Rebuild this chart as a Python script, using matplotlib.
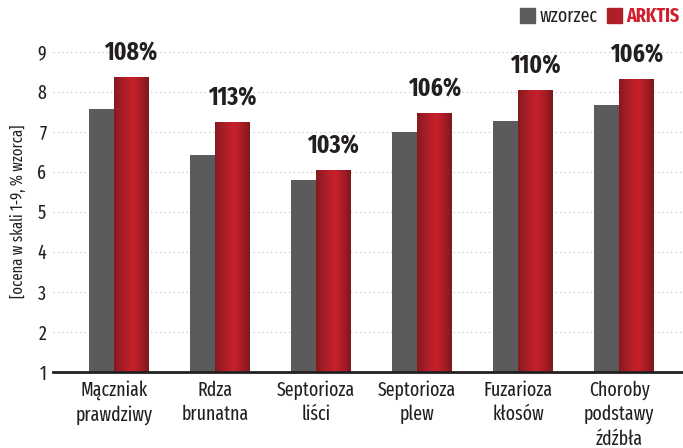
import numpy as np
import matplotlib.pyplot as plt
from matplotlib.colors import LinearSegmentedColormap
from matplotlib.patches import Patch

kategorie = ['Mączniak\nprawdziwy', 'Rdza\nbrunatna', 'Septorioza\nliści',
             'Septorioza\nplew', 'Fuzarioza\nkłosów', 'Choroby\npodstawy\nźdźbła']
wzorzec = [7.56, 6.41, 5.79, 6.99, 7.26, 7.66]
arktis = [8.36, 7.24, 6.04, 7.46, 8.04, 8.31]
procent = ['108%', '113%', '103%', '106%', '110%', '106%']

plt.rcParams['font.family'] = ['Fira Sans Extra Condensed', 'DejaVu Sans']

fig = plt.figure(figsize=(6.83, 4.48), dpi=100)
ax = fig.add_axes([0.078, 0.17, 0.922, 0.715])

x = np.arange(len(kategorie))
dol = 1

# szare slupki po lewej, czerwone po prawej od srodka kategorii
ax.bar(x, np.array(wzorzec) - dol, width=-0.25, align='edge', bottom=dol,
       color='#5b5b5d', zorder=2)
bary = ax.bar(x, np.array(arktis) - dol, width=0.34, align='edge', bottom=dol,
              color='none', zorder=3)

# gradient na czerwonych slupkach
cmap = LinearSegmentedColormap.from_list('arktis', [
    (0.0, '#861a1e'), (0.3, '#b01e28'), (0.55, '#c8202b'),
    (0.8, '#a51c25'), (1.0, '#7e181c')])
grad = np.linspace(0, 1, 100).reshape(1, -1)
for b in bary:
    im = ax.imshow(grad, cmap=cmap, aspect='auto', zorder=3,
                   extent=(b.get_x(), b.get_x() + b.get_width(),
                           b.get_y(), b.get_y() + b.get_height()))
    im.set_clip_path(b)

for b, p in zip(bary, procent):
    ax.annotate(p, (b.get_x() + b.get_width() / 2, b.get_y() + b.get_height()),
                xytext=(0, 8), textcoords='offset points', ha='center', va='bottom',
                fontsize=18, fontweight='bold', color='#231f20', annotation_clip=False)

ax.set_xlim(-0.6, 5.63)
ax.set_ylim(1, 9)
ax.set_yticks(range(1, 10))
ax.set_xticks(x, kategorie)
ax.tick_params(axis='both', length=0, labelsize=14, labelcolor='#231f20')
ax.tick_params(axis='x', pad=6)
ax.tick_params(axis='y', pad=5)
for t in ax.get_xticklabels():
    t.set_linespacing(1.3)

ax.yaxis.grid(True, linestyle=(0, (1, 3)), color='#b5b5b5', linewidth=0.8, zorder=0)
ax.set_axisbelow(True)
for s in ['left', 'right', 'top']:
    ax.spines[s].set_visible(False)
ax.spines['bottom'].set_linewidth(2)
ax.spines['bottom'].set_color('#231f20')
ax.spines['bottom'].set_zorder(5)

ax.set_ylabel('[ocena w skali 1-9, % wzorca]', fontsize=11.5, color='#231f20', labelpad=8)

uchwyty = [Patch(color='#5b5b5d'), Patch(color='#b01e28')]
leg = ax.legend(uchwyty, ['wzorzec', 'ARKTIS'], loc='upper right',
                bbox_to_anchor=(0.995, 0.985), bbox_transform=fig.transFigure,
                frameon=False, ncol=2, fontsize=14, handlelength=0.8,
                handleheight=0.8, columnspacing=0.5, handletextpad=0.2,
                borderpad=0, borderaxespad=0)
leg.get_texts()[0].set_color('#231f20')
leg.get_texts()[1].set_color('#d0202e')
leg.get_texts()[1].set_fontweight('bold')

fig.savefig('out.png', dpi=100)
